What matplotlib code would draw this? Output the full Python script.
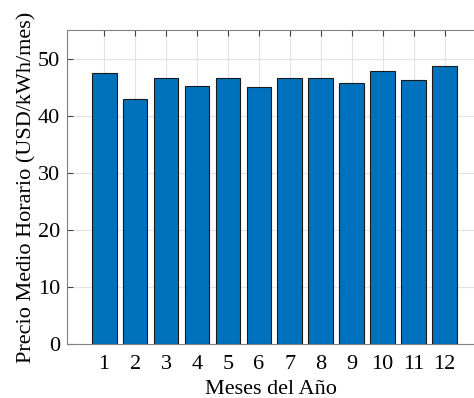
import numpy as np
import matplotlib.pyplot as plt

# precio medio horario por mes
meses = np.arange(1, 13)
precio = [47.4, 43.0, 46.6, 45.2, 46.6, 45.0, 46.6, 46.6, 45.7, 47.8, 46.2, 48.7]
yticks = [0, 10, 20, 30, 40, 50]

plt.rcParams['font.family'] = ['Liberation Serif', 'DejaVu Serif']
plt.rcParams['font.size'] = 16

fig = plt.figure(figsize=(4.74, 3.98), dpi=100)
ax = fig.add_axes([67/474, 54/398, (474-67)/474, 314/398])

ax.bar(meses, precio, width=0.8, color='#0072BD', edgecolor='#1a1a1a', linewidth=0.8, zorder=3)

ax.set_xlim(-0.2, 12.95)
ax.set_ylim(0, 55)
ax.set_xticks(meses)
ax.set_yticks(yticks)
ax.grid(True, color='#e3e3e3', linewidth=0.8, zorder=0)
ax.tick_params(direction='in', length=4, color='#404040', top=True)
ax.tick_params(axis='x', pad=8)
ax.tick_params(axis='y', pad=5)
for s in ['left', 'bottom', 'top']:
    ax.spines[s].set_color('#808080')
ax.spines['right'].set_visible(False)

ax.set_xlabel('Meses del Año', labelpad=4)
ax.set_ylabel('Precio Medio Horario (USD/kWh/mes)', labelpad=1)

fig.savefig('out.png', dpi=100)
